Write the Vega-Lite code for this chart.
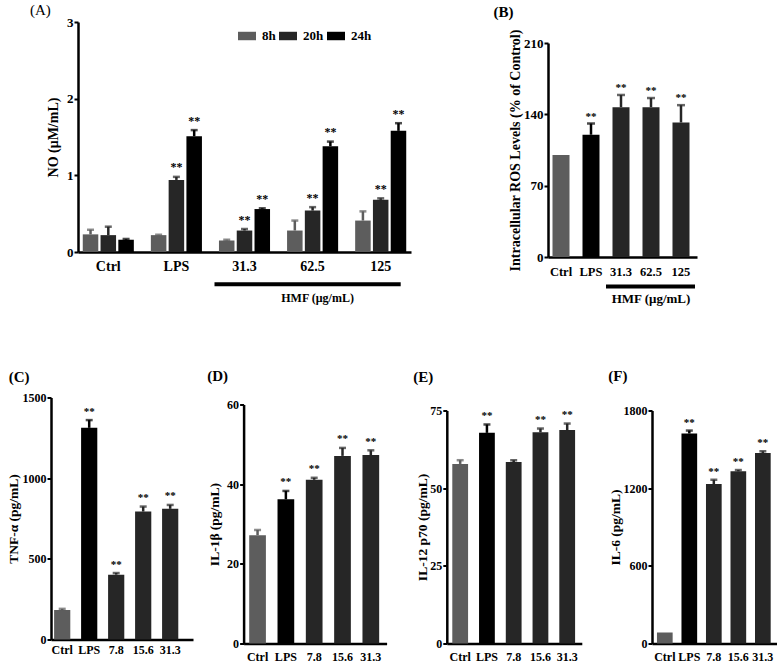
{
  "$schema": "https://vega.github.io/schema/vega-lite/v6.json",
  "padding": {"left": 6, "top": 2, "right": 0, "bottom": 0},
  "background": "white",
  "spacing": 61.5,
  "resolve": {"scale": {"color": "independent", "stroke": "independent", "fill": "independent"}},
  "config": {
    "view": {"stroke": null},
    "font": "Liberation Serif",
    "axis": {"domainColor": "#000", "domainWidth": 2.5, "tickColor": "#000", "tickWidth": 2, "tickSize": 4, "labelFont": "Liberation Serif", "labelFontWeight": "bold", "labelColor": "#000", "titleFont": "Liberation Serif", "titleFontWeight": "bold", "titleColor": "#000", "grid": false, "labelPadding": 1},
    "axisX": {"ticks": false, "labelAngle": 0, "labelPadding": 8},
    "text": {"font": "Liberation Serif"}
  },
  "datasets": {
    "A": [
      {"g": "Ctrl", "t": "8h", "v": 0.23, "e": 0.29, "s": ""},
      {"g": "Ctrl", "t": "20h", "v": 0.22, "e": 0.33, "s": ""},
      {"g": "Ctrl", "t": "24h", "v": 0.16, "e": 0.17, "s": ""},
      {"g": "LPS", "t": "8h", "v": 0.22, "e": 0.225, "s": ""},
      {"g": "LPS", "t": "20h", "v": 0.94, "e": 0.98, "s": "**"},
      {"g": "LPS", "t": "24h", "v": 1.51, "e": 1.59, "s": "**"},
      {"g": "31.3", "t": "8h", "v": 0.15, "e": 0.16, "s": ""},
      {"g": "31.3", "t": "20h", "v": 0.28, "e": 0.3, "s": "**"},
      {"g": "31.3", "t": "24h", "v": 0.56, "e": 0.57, "s": "**"},
      {"g": "62.5", "t": "8h", "v": 0.28, "e": 0.41, "s": ""},
      {"g": "62.5", "t": "20h", "v": 0.54, "e": 0.585, "s": "**"},
      {"g": "62.5", "t": "24h", "v": 1.38, "e": 1.44, "s": "**"},
      {"g": "125", "t": "8h", "v": 0.41, "e": 0.53, "s": ""},
      {"g": "125", "t": "20h", "v": 0.68, "e": 0.7, "s": "**"},
      {"g": "125", "t": "24h", "v": 1.58, "e": 1.68, "s": "**"}
    ],
    "B": [
      {"g": "Ctrl", "k": "c", "v": 100, "e": null, "s": ""},
      {"g": "LPS", "k": "l", "v": 120, "e": 131, "s": "**"},
      {"g": "31.3", "k": "h", "v": 147, "e": 159, "s": "**"},
      {"g": "62.5", "k": "h", "v": 147, "e": 156, "s": "**"},
      {"g": "125", "k": "h", "v": 132, "e": 149, "s": "**"}
    ],
    "C": [
      {"g": "Ctrl", "k": "c", "v": 183, "e": 190, "s": ""},
      {"g": "LPS", "k": "l", "v": 1312, "e": 1360, "s": "**"},
      {"g": "7.8", "k": "h", "v": 402, "e": 412, "s": "**"},
      {"g": "15.6", "k": "h", "v": 793, "e": 824, "s": "**"},
      {"g": "31.3", "k": "h", "v": 810, "e": 834, "s": "**"}
    ],
    "D": [
      {"g": "Ctrl", "k": "c", "v": 27.2, "e": 28.5, "s": ""},
      {"g": "LPS", "k": "l", "v": 36.2, "e": 38.3, "s": "**"},
      {"g": "7.8", "k": "h", "v": 41.1, "e": 41.6, "s": "**"},
      {"g": "15.6", "k": "h", "v": 47.1, "e": 49.1, "s": "**"},
      {"g": "31.3", "k": "h", "v": 47.3, "e": 48.5, "s": "**"}
    ],
    "E": [
      {"g": "Ctrl", "k": "c", "v": 57.8, "e": 59.0, "s": ""},
      {"g": "LPS", "k": "l", "v": 67.8, "e": 70.5, "s": "**"},
      {"g": "7.8", "k": "h", "v": 58.4, "e": 59.0, "s": ""},
      {"g": "15.6", "k": "h", "v": 68.0, "e": 69.2, "s": "**"},
      {"g": "31.3", "k": "h", "v": 68.7, "e": 70.8, "s": "**"}
    ],
    "F": [
      {"g": "Ctrl", "k": "c", "v": 85, "e": null, "s": ""},
      {"g": "LPS", "k": "l", "v": 1622, "e": 1645, "s": "**"},
      {"g": "7.8", "k": "h", "v": 1232, "e": 1265, "s": "**"},
      {"g": "15.6", "k": "h", "v": 1330, "e": 1340, "s": "**"},
      {"g": "31.3", "k": "h", "v": 1472, "e": 1485, "s": "**"}
    ]
  },
  "vconcat": [
    {
      "spacing": 82,
      "resolve": {"scale": {"color": "independent", "stroke": "independent", "fill": "independent"}},
      "hconcat": [
        {
          "width": 360,
          "height": 235,
          "data": {"name": "A"},
          "encoding": {
            "x": {"field": "g", "type": "nominal", "sort": null, "scale": {"domain": ["Ctrl", "LPS", "31.3", "62.5", "125"], "range": [27, 360], "paddingInner": 0.25, "paddingOuter": 0.07}, "axis": {"title": null, "labelFontSize": 14, "labelPadding": 7, "offset": -5}}
          },
          "layer": [
            {
              "mark": {"type": "bar"},
              "encoding": {
                "xOffset": {"field": "t", "type": "nominal", "sort": null, "scale": {"domain": ["8h", "20h", "24h"], "paddingInner": 0.127}},
                "y": {"field": "v", "type": "quantitative", "scale": {"domain": [0, 3], "range": [230, 0], "nice": false}, "axis": {"values": [0, 1, 2, 3], "format": "d", "offset": -27, "title": "NO (μM/mL)", "titleFontSize": 14, "labelFontSize": 13, "titlePadding": 6.5}},
                "color": {"field": "t", "type": "nominal", "sort": null, "scale": {"domain": ["8h", "20h", "24h"], "range": ["#5d5d5d", "#262626", "#000000"]},
                  "legend": {"orient": "none", "legendX": 187, "legendY": 5, "direction": "horizontal", "title": null, "labelFont": "Liberation Serif", "labelFontWeight": "bold", "labelFontSize": 13, "labelColor": "#000", "symbolType": "M-1,-0.47H1V0.47H-1Z", "symbolSize": 324, "symbolStrokeWidth": 0, "labelOffset": 6, "columnPadding": 3}}
              }
            },
            {
              "transform": [{"filter": "isValid(datum.e)"}],
              "mark": {"type": "rule", "strokeWidth": 2.5},
              "encoding": {
                "xOffset": {"field": "t", "type": "nominal", "sort": null},
                "y": {"field": "v", "type": "quantitative"},
                "y2": {"field": "e"},
                "stroke": {"field": "t", "type": "nominal", "scale": {"domain": ["8h", "20h", "24h"], "range": ["#5d5d5d", "#262626", "#000000"]}, "legend": null}
              }
            },
            {
              "transform": [{"filter": "isValid(datum.e)"}],
              "mark": {"type": "tick", "thickness": 2.5, "size": 7, "orient": "horizontal"},
              "encoding": {
                "xOffset": {"field": "t", "type": "nominal", "sort": null},
                "y": {"field": "e", "type": "quantitative"},
                "fill": {"field": "t", "type": "nominal", "scale": {"domain": ["8h", "20h", "24h"], "range": ["#5d5d5d", "#262626", "#000000"]}, "legend": null}
              }
            },
            {
              "mark": {"type": "text", "baseline": "alphabetic", "dy": -5.5, "fontSize": 12, "fontWeight": "bold", "color": "#000"},
              "encoding": {
                "xOffset": {"field": "t", "type": "nominal", "sort": null},
                "y": {"field": "e", "type": "quantitative"},
                "text": {"field": "s"}
              }
            },
            {
              "data": {"values": [{"a": "31.3", "b": "125"}]},
              "mark": {"type": "rule", "strokeWidth": 4, "color": "#000", "xOffset": -30, "x2Offset": 20},
              "encoding": {
                "x": {"field": "a", "type": "nominal"},
                "x2": {"field": "b"},
                "y": {"datum": -0.42, "type": "quantitative"}
              }
            },
            {
              "data": {"values": [{"m": "62.5", "lab": "HMF (μg/mL)"}]},
              "mark": {"type": "text", "baseline": "middle", "dx": 5, "fontSize": 12, "fontWeight": "bold", "color": "#000"},
              "encoding": {
                "x": {"field": "m", "type": "nominal"},
                "y": {"datum": -0.6, "type": "quantitative"},
                "text": {"field": "lab"}
              }
            },
            {
              "data": {"values": [{"g": "Ctrl", "lab": "(A)"}]},
              "mark": {"type": "text", "baseline": "middle", "align": "center", "dx": -68, "fontSize": 15, "color": "#000"},
              "encoding": {
                "y": {"datum": 3.163, "type": "quantitative"},
                "text": {"field": "lab"}
              }
            }
          ]
        },
        {
          "width": 149,
          "height": 235,
          "data": {"name": "B"},
          "encoding": {
            "x": {"field": "g", "type": "nominal", "sort": null, "scale": {"domain": ["Ctrl", "LPS", "31.3", "62.5", "125"], "paddingInner": 0.433, "paddingOuter": 0.2, "align": 0.375}, "axis": {"title": null, "labelFontSize": 12.5, "labelPadding": 8}}
          },
          "layer": [
            {
              "mark": {"type": "bar"},
              "encoding": {
                "y": {"field": "v", "type": "quantitative", "scale": {"domain": [0, 210], "range": [235, 21], "nice": false}, "axis": {"values": [0, 70, 140, 210], "format": "d", "title": "Intracellular ROS Levels (% of Control)", "titleFontSize": 14, "labelFontSize": 13, "titlePadding": 1.5}},
                "color": {"field": "k", "type": "nominal", "scale": {"domain": ["c", "l", "h"], "range": ["#5d5d5d", "#000000", "#262626"]}, "legend": null}
              }
            },
            {
              "transform": [{"filter": "isValid(datum.e)"}],
              "mark": {"type": "rule", "strokeWidth": 2.5},
              "encoding": {
                "y": {"field": "v", "type": "quantitative"},
                "y2": {"field": "e"},
                "stroke": {"field": "k", "type": "nominal", "scale": {"domain": ["c", "l", "h"], "range": ["#5d5d5d", "#000000", "#262626"]}, "legend": null}
              }
            },
            {
              "transform": [{"filter": "isValid(datum.e)"}],
              "mark": {"type": "tick", "thickness": 2.5, "size": 8, "orient": "horizontal"},
              "encoding": {
                "y": {"field": "e", "type": "quantitative"},
                "fill": {"field": "k", "type": "nominal", "scale": {"domain": ["c", "l", "h"], "range": ["#5d5d5d", "#000000", "#262626"]}, "legend": null}
              }
            },
            {
              "transform": [{"filter": "isValid(datum.e)"}],
              "mark": {"type": "text", "baseline": "alphabetic", "dy": -4, "fontSize": 11, "fontWeight": "bold", "color": "#000"},
              "encoding": {
                "y": {"field": "e", "type": "quantitative"},
                "text": {"field": "s"}
              }
            },
            {
              "data": {"values": [{"a": "31.3", "b": "125"}]},
              "mark": {"type": "rule", "strokeWidth": 4, "color": "#000", "xOffset": -15, "x2Offset": 14},
              "encoding": {
                "x": {"field": "a", "type": "nominal"},
                "x2": {"field": "b"},
                "y": {"datum": -29, "type": "quantitative"}
              }
            },
            {
              "data": {"values": [{"m": "62.5", "lab": "HMF (μg/mL)"}]},
              "mark": {"type": "text", "baseline": "middle", "fontSize": 13, "fontWeight": "bold", "color": "#000"},
              "encoding": {
                "x": {"field": "m", "type": "nominal"},
                "y": {"datum": -41.5, "type": "quantitative"},
                "text": {"field": "lab"}
              }
            },
            {
              "data": {"values": [{"g": "Ctrl", "lab": "(B)"}]},
              "mark": {"type": "text", "baseline": "middle", "align": "center", "dx": -57.5, "fontSize": 15, "fontWeight": "bold", "color": "#000"},
              "encoding": {
                "y": {"datum": 240, "type": "quantitative"},
                "text": {"field": "lab"}
              }
            }
          ]
        }
      ]
    },
    {
      "spacing": 13.6,
      "resolve": {"scale": {"color": "independent", "stroke": "independent", "fill": "independent"}},
      "hconcat": [
        {
          "width": 142,
          "height": 246,
          "data": {"name": "C"},
          "encoding": {
            "x": {"field": "g", "type": "nominal", "sort": null, "scale": {"domain": ["Ctrl", "LPS", "7.8", "15.6", "31.3"], "paddingInner": 0.4, "paddingOuter": 0.33, "align": 0.174}, "axis": {"title": null, "labelFontSize": 12, "labelPadding": 5, "offset": -4}}
          },
          "layer": [
            {"mark": {"type": "bar"}, "encoding": {"y": {"field": "v", "type": "quantitative", "scale": {"domain": [0, 1500], "range": [242, 0], "nice": false}, "axis": {"values": [0, 500, 1000, 1500], "format": "d", "title": "TNF-α (pg/mL)", "titleFontSize": 13.5, "labelFontSize": 12, "titlePadding": 1.5}}, "color": {"field": "k", "type": "nominal", "scale": {"domain": ["c", "l", "h"], "range": ["#5d5d5d", "#000000", "#262626"]}, "legend": null}}},
            {"transform": [{"filter": "isValid(datum.e)"}], "mark": {"type": "rule", "strokeWidth": 2.5}, "encoding": {"y": {"field": "v", "type": "quantitative"}, "y2": {"field": "e"}, "stroke": {"field": "k", "type": "nominal", "scale": {"domain": ["c", "l", "h"], "range": ["#5d5d5d", "#000000", "#262626"]}, "legend": null}}},
            {"transform": [{"filter": "isValid(datum.e)"}], "mark": {"type": "tick", "thickness": 2.5, "size": 7, "orient": "horizontal"}, "encoding": {"y": {"field": "e", "type": "quantitative"}, "fill": {"field": "k", "type": "nominal", "scale": {"domain": ["c", "l", "h"], "range": ["#5d5d5d", "#000000", "#262626"]}, "legend": null}}},
            {"transform": [{"filter": "isValid(datum.e)"}], "mark": {"type": "text", "baseline": "alphabetic", "dy": -5.5, "fontSize": 11, "fontWeight": "bold", "color": "#000"}, "encoding": {"y": {"field": "e", "type": "quantitative"}, "text": {"field": "s"}}},
            {"data": {"values": [{"g": "Ctrl", "lab": "(C)"}]}, "mark": {"type": "text", "baseline": "middle", "align": "center", "dx": -43, "fontSize": 15, "fontWeight": "bold", "color": "#000"}, "encoding": {"y": {"datum": 1630, "type": "quantitative"}, "text": {"field": "lab"}}}
          ]
        },
        {
          "spacing": 26.2,
          "resolve": {"scale": {"color": "independent", "stroke": "independent", "fill": "independent"}},
          "hconcat": [
            {
              "width": 143,
              "height": 246,
              "data": {"name": "D"},
              "encoding": {
                "x": {"field": "g", "type": "nominal", "sort": null, "scale": {"domain": ["Ctrl", "LPS", "7.8", "15.6", "31.3"], "paddingInner": 0.41, "paddingOuter": 0.23, "align": 0.43}, "axis": {"title": null, "labelFontSize": 12, "labelPadding": 8}}
              },
              "layer": [
                {"mark": {"type": "bar"}, "encoding": {"y": {"field": "v", "type": "quantitative", "scale": {"domain": [0, 60], "range": [246, 7], "nice": false}, "axis": {"values": [0, 20, 40, 60], "format": "d", "title": "IL-1β (pg/mL)", "titleFontSize": 13.5, "labelFontSize": 12, "titlePadding": 5}}, "color": {"field": "k", "type": "nominal", "scale": {"domain": ["c", "l", "h"], "range": ["#5d5d5d", "#000000", "#262626"]}, "legend": null}}},
                {"transform": [{"filter": "isValid(datum.e)"}], "mark": {"type": "rule", "strokeWidth": 2.5}, "encoding": {"y": {"field": "v", "type": "quantitative"}, "y2": {"field": "e"}, "stroke": {"field": "k", "type": "nominal", "scale": {"domain": ["c", "l", "h"], "range": ["#5d5d5d", "#000000", "#262626"]}, "legend": null}}},
                {"transform": [{"filter": "isValid(datum.e)"}], "mark": {"type": "tick", "thickness": 2.5, "size": 7, "orient": "horizontal"}, "encoding": {"y": {"field": "e", "type": "quantitative"}, "fill": {"field": "k", "type": "nominal", "scale": {"domain": ["c", "l", "h"], "range": ["#5d5d5d", "#000000", "#262626"]}, "legend": null}}},
                {"transform": [{"filter": "isValid(datum.e)"}], "mark": {"type": "text", "baseline": "alphabetic", "dy": -5.5, "fontSize": 11, "fontWeight": "bold", "color": "#000"}, "encoding": {"y": {"field": "e", "type": "quantitative"}, "text": {"field": "s"}}},
                {"data": {"values": [{"g": "Ctrl", "lab": "(D)"}]}, "mark": {"type": "text", "baseline": "middle", "align": "center", "dx": -40, "fontSize": 15, "fontWeight": "bold", "color": "#000"}, "encoding": {"y": {"datum": 67.03, "type": "quantitative"}, "text": {"field": "lab"}}}
              ]
            },
            {
              "width": 135,
              "height": 246,
              "data": {"name": "E"},
              "encoding": {
                "x": {"field": "g", "type": "nominal", "sort": null, "scale": {"domain": ["Ctrl", "LPS", "7.8", "15.6", "31.3"], "paddingInner": 0.41, "paddingOuter": 0.228, "align": 0.45}, "axis": {"title": null, "labelFontSize": 12, "labelPadding": 8}}
              },
              "layer": [
                {"mark": {"type": "bar"}, "encoding": {"y": {"field": "v", "type": "quantitative", "scale": {"domain": [0, 75], "range": [246, 13], "nice": false}, "axis": {"values": [0, 25, 50, 75], "format": "d", "title": "IL-12 p70 (pg/mL)", "titleFontSize": 13.5, "labelFontSize": 12, "titlePadding": 0.5}}, "color": {"field": "k", "type": "nominal", "scale": {"domain": ["c", "l", "h"], "range": ["#5d5d5d", "#000000", "#262626"]}, "legend": null}}},
                {"transform": [{"filter": "isValid(datum.e)"}], "mark": {"type": "rule", "strokeWidth": 2.5}, "encoding": {"y": {"field": "v", "type": "quantitative"}, "y2": {"field": "e"}, "stroke": {"field": "k", "type": "nominal", "scale": {"domain": ["c", "l", "h"], "range": ["#5d5d5d", "#000000", "#262626"]}, "legend": null}}},
                {"transform": [{"filter": "isValid(datum.e)"}], "mark": {"type": "tick", "thickness": 2.5, "size": 7, "orient": "horizontal"}, "encoding": {"y": {"field": "e", "type": "quantitative"}, "fill": {"field": "k", "type": "nominal", "scale": {"domain": ["c", "l", "h"], "range": ["#5d5d5d", "#000000", "#262626"]}, "legend": null}}},
                {"transform": [{"filter": "isValid(datum.e)"}], "mark": {"type": "text", "baseline": "alphabetic", "dy": -5.5, "fontSize": 11, "fontWeight": "bold", "color": "#000"}, "encoding": {"y": {"field": "e", "type": "quantitative"}, "text": {"field": "s"}}},
                {"data": {"values": [{"g": "Ctrl", "lab": "(E)"}]}, "mark": {"type": "text", "baseline": "middle", "align": "center", "dx": -37, "fontSize": 15, "fontWeight": "bold", "color": "#000"}, "encoding": {"y": {"datum": 85.94, "type": "quantitative"}, "text": {"field": "lab"}}}
              ]
            },
            {
              "width": 125,
              "height": 246,
              "data": {"name": "F"},
              "encoding": {
                "x": {"field": "g", "type": "nominal", "sort": null, "scale": {"domain": ["Ctrl", "LPS", "7.8", "15.6", "31.3"], "paddingInner": 0.36, "paddingOuter": 0.23, "align": 0.44}, "axis": {"title": null, "labelFontSize": 12, "labelPadding": 8}}
              },
              "layer": [
                {"mark": {"type": "bar"}, "encoding": {"y": {"field": "v", "type": "quantitative", "scale": {"domain": [0, 1800], "range": [246, 13], "nice": false}, "axis": {"values": [0, 600, 1200, 1800], "format": "d", "title": "IL-6 (pg/mL)", "titleFontSize": 13.5, "labelFontSize": 12, "titlePadding": 0.5}}, "color": {"field": "k", "type": "nominal", "scale": {"domain": ["c", "l", "h"], "range": ["#5d5d5d", "#000000", "#262626"]}, "legend": null}}},
                {"transform": [{"filter": "isValid(datum.e)"}], "mark": {"type": "rule", "strokeWidth": 2.5}, "encoding": {"y": {"field": "v", "type": "quantitative"}, "y2": {"field": "e"}, "stroke": {"field": "k", "type": "nominal", "scale": {"domain": ["c", "l", "h"], "range": ["#5d5d5d", "#000000", "#262626"]}, "legend": null}}},
                {"transform": [{"filter": "isValid(datum.e)"}], "mark": {"type": "tick", "thickness": 2.5, "size": 7, "orient": "horizontal"}, "encoding": {"y": {"field": "e", "type": "quantitative"}, "fill": {"field": "k", "type": "nominal", "scale": {"domain": ["c", "l", "h"], "range": ["#5d5d5d", "#000000", "#262626"]}, "legend": null}}},
                {"transform": [{"filter": "isValid(datum.e)"}], "mark": {"type": "text", "baseline": "alphabetic", "dy": -5, "fontSize": 11, "fontWeight": "bold", "color": "#000"}, "encoding": {"y": {"field": "e", "type": "quantitative"}, "text": {"field": "s"}}},
                {"data": {"values": [{"g": "Ctrl", "lab": "(F)"}]}, "mark": {"type": "text", "baseline": "middle", "align": "center", "dx": -47, "fontSize": 15, "fontWeight": "bold", "color": "#000"}, "encoding": {"y": {"datum": 2062.7, "type": "quantitative"}, "text": {"field": "lab"}}}
              ]
            }
          ]
        }
      ]
    }
  ]
}
